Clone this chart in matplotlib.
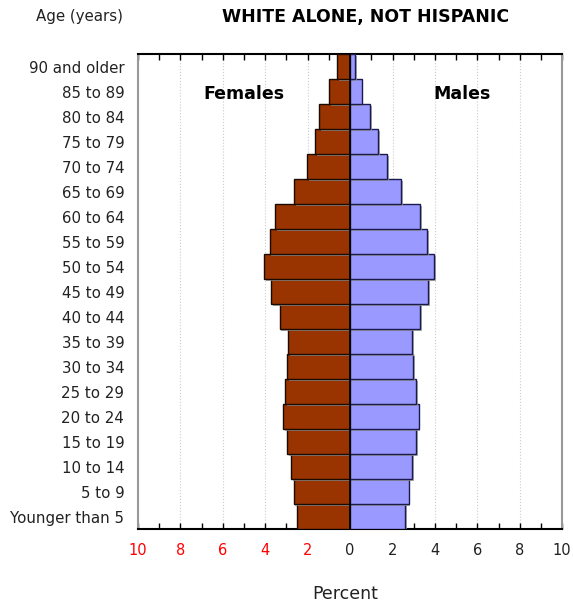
import numpy as np
import matplotlib.pyplot as plt
import matplotlib.patheffects as pe
from matplotlib.ticker import MultipleLocator

ages = ["Younger than 5", "5 to 9", "10 to 14", "15 to 19", "20 to 24",
        "25 to 29", "30 to 34", "35 to 39", "40 to 44", "45 to 49",
        "50 to 54", "55 to 59", "60 to 64", "65 to 69", "70 to 74",
        "75 to 79", "80 to 84", "85 to 89", "90 and older"]
females = [2.50, 2.66, 2.78, 2.97, 3.16, 3.07, 2.96, 2.91, 3.32, 3.73,
           4.06, 3.79, 3.54, 2.64, 2.03, 1.65, 1.45, 0.99, 0.61]
males = [2.61, 2.77, 2.94, 3.11, 3.24, 3.11, 2.99, 2.94, 3.32, 3.68,
         3.95, 3.63, 3.32, 2.41, 1.75, 1.32, 0.96, 0.55, 0.24]
tick_vals = [-10, -8, -6, -4, -2, 0, 2, 4, 6, 8, 10]

fig = plt.figure(figsize=(5.73, 6.07), dpi=100)
ax = fig.add_axes([0.241, 0.1285, 0.740, 0.7825])

# small grey shadow like the original chart
shadow = [pe.SimplePatchShadow(offset=(1.2, -1.2), shadow_rgbFace="#999999",
                               alpha=0.8), pe.Normal()]

y = np.arange(len(ages))
fb = ax.barh(y, -np.array(females), height=1.0, color="#993300",
             edgecolor="#1a0a00", linewidth=1, zorder=3)
mb = ax.barh(y, males, height=1.0, color="#9999ff",
             edgecolor="#1a1a4d", linewidth=1, zorder=3)
for b in list(fb) + list(mb):
    b.set_path_effects(shadow)
ax.axvline(0, color="black", linewidth=1.2, zorder=4)

ax.set_xlim(-10, 10)
ax.set_ylim(-0.5, len(ages) - 0.5)
ax.set_yticks(y)
ax.set_yticklabels(ages, fontsize=10.8, color="#222222")
ax.tick_params(axis="y", length=0, pad=10)

ax.set_xticks(tick_vals)
ax.set_xticklabels([str(abs(v)) for v in tick_vals], fontsize=10.5)
for lbl, v in zip(ax.get_xticklabels(), tick_vals):
    lbl.set_color("red" if v < 0 else "#222222")
ax.xaxis.set_minor_locator(MultipleLocator(1))
ax.tick_params(axis="x", which="both", direction="in", top=True,
               length=4, width=1, pad=10)
ax.grid(axis="x", color="#cccccc", linestyle=":", linewidth=0.8, zorder=0)

ax.spines["left"].set_color("#999999")
ax.spines["right"].set_color("#999999")
ax.spines["top"].set_color("black")
ax.spines["bottom"].set_color("black")
for s in ax.spines.values():
    s.set_linewidth(1.5)

ax.text(-5.0, 16.9, "Females", ha="center", va="center", fontsize=12.5,
        fontweight="bold")
ax.text(5.3, 16.9, "Males", ha="center", va="center", fontsize=12.5,
        fontweight="bold")

fig.text(366 / 573, 1 - 17 / 607, "WHITE ALONE, NOT HISPANIC", ha="center",
         va="center", fontsize=12.5, fontweight="bold")
fig.text(79 / 573, 1 - 16 / 607, "Age (years)", ha="center", va="center",
         fontsize=10.8, color="#222222")
fig.text(345 / 573, 1 - 594 / 607, "Percent", ha="center", va="center",
         fontsize=12.5, color="#222222")

fig.savefig("out.png", dpi=100)
